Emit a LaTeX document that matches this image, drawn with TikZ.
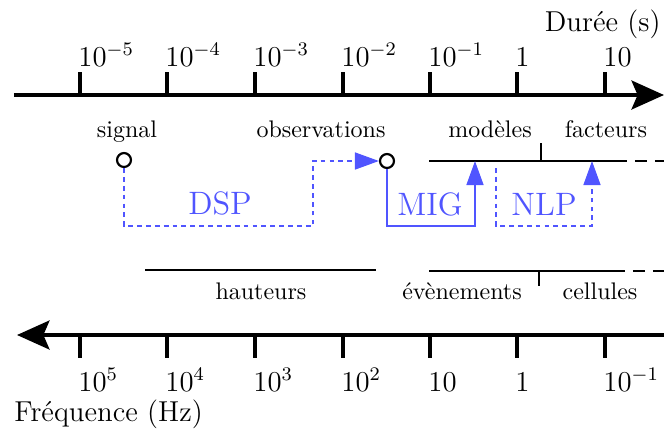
\documentclass[tikz,border=0pt]{standalone}
\usetikzlibrary{arrows.meta}
\definecolor{algo}{RGB}{80,85,255}
\tikzset{
  axisline/.style={line width=1.7pt},
  axistick/.style={line width=1.3pt},
  span/.style={line width=0.85pt},
  spandash/.style={line width=0.85pt, dash pattern=on 5pt off 3.3pt},
  ticklab/.style={inner sep=0pt, font=\large},
  cat/.style={inner sep=0pt, anchor=base},
  pt/.style={circle, draw, fill=white, line width=0.9pt, minimum size=5.8pt, inner sep=0pt},
  flowsolid/.style={draw=algo, line width=0.9pt, -{Triangle[length=10pt,width=7pt]}},
  flowdot/.style={draw=algo, line width=0.9pt, dash pattern=on 2pt off 1.7pt, -{Triangle[length=10pt,width=7pt]}},
  algolab/.style={text=algo, inner sep=0pt, font=\fontsize{13.5}{16}\selectfont},
}
\begin{document}
\begin{tikzpicture}[x=0.4167pt, y=-0.4167pt]
\useasboundingbox (0,0) rectangle (664,433);
% top axis (duration)
\coordinate (ta0) at (14,95);
\coordinate (ta1) at (664,95);
\draw[axisline, -{Stealth[length=13.5pt,width=12pt,inset=2.5pt]}] (ta0) -- (ta1);
\foreach \x/\lab [count=\i] in {80/{$10^{-5}$},167/{$10^{-4}$},255/{$10^{-3}$},343/{$10^{-2}$},430/{$10^{-1}$},517/{$1$},605/{$10$}}{
  \draw[axistick] (\x,72) -- (\x,95);
  \node[ticklab, anchor=base west] (tl\i) at (\x-2,66) {\lab};
}
\node[ticklab, anchor=base east] (dur) at (661,31) {Durée (s)};
% bottom axis (frequency)
\coordinate (ba0) at (664,335);
\coordinate (ba1) at (17,335);
\draw[axisline, -{Stealth[length=13.5pt,width=12pt,inset=2.5pt]}] (ba0) -- (ba1);
\foreach \x/\lab [count=\i] in {80/{$10^{5}$},167/{$10^{4}$},255/{$10^{3}$},343/{$10^{2}$},430/{$10$},517/{$1$},605/{$10^{-1}$}}{
  \draw[axistick] (\x,335) -- (\x,358);
  \node[ticklab, anchor=base west] (bl\i) at (\x-2,391) {\lab};
}
\node[ticklab, anchor=base west] (freq) at (14,421) {Fréquence (Hz)};
% top categories
\node[cat] (signal) at (127,137) {signal};
\node[cat] (observ) at (321,137) {observations};
\node[cat] (modeles) at (490,137) {modèles};
\node[cat] (facteurs) at (606,137) {facteurs};
\coordinate (m0) at (429,161);
\coordinate (m1) at (615,161);
\coordinate (m2) at (664,161);
\coordinate (mt) at (541,143);
\coordinate (mb) at (541,161);
\draw[span] (m0) -- (m1);
\draw[span] (mt) -- (mb);
\draw[spandash] (m1) -- (m2);
% bottom categories
\node[cat] (hauteurs) at (261,299) {hauteurs};
\node[cat] (evenements) at (462,299) {évènements};
\node[cat] (cellules) at (600,299) {cellules};
\coordinate (h0) at (145,270);
\coordinate (h1) at (376,270);
\draw[span] (h0) -- (h1);
\coordinate (e0) at (429,271);
\coordinate (e1) at (613,271);
\coordinate (e2) at (664,271);
\coordinate (et) at (539,271);
\coordinate (eb) at (539,286);
\draw[span] (e0) -- (e1);
\draw[span] (et) -- (eb);
\draw[spandash] (e1) -- (e2);
% points
\node[pt] (psig) at (124,160) {};
\node[pt] (pobs) at (387,161) {};
% DSP
\coordinate (d1) at (124,226);
\coordinate (d2) at (313,161);
\draw[flowdot] (psig.south) -- (d1) -| (d2) -- (pobs.west);
\node[algolab] (dsp) at (220,203) {DSP};
% MIG
\coordinate (g1) at (475,226);
\coordinate (gt) at (475,161);
\draw[flowsolid] (pobs.south) |- (g1) -- (gt);
\node[algolab] (mig) at (430,204) {MIG};
% NLP
\coordinate (n0) at (496,168);
\coordinate (n1) at (592,226);
\coordinate (nt) at (592,161);
\draw[flowdot] (n0) |- (n1) -- (nt);
\node[algolab] (nlp) at (544,204) {NLP};
\end{tikzpicture}
\end{document}
